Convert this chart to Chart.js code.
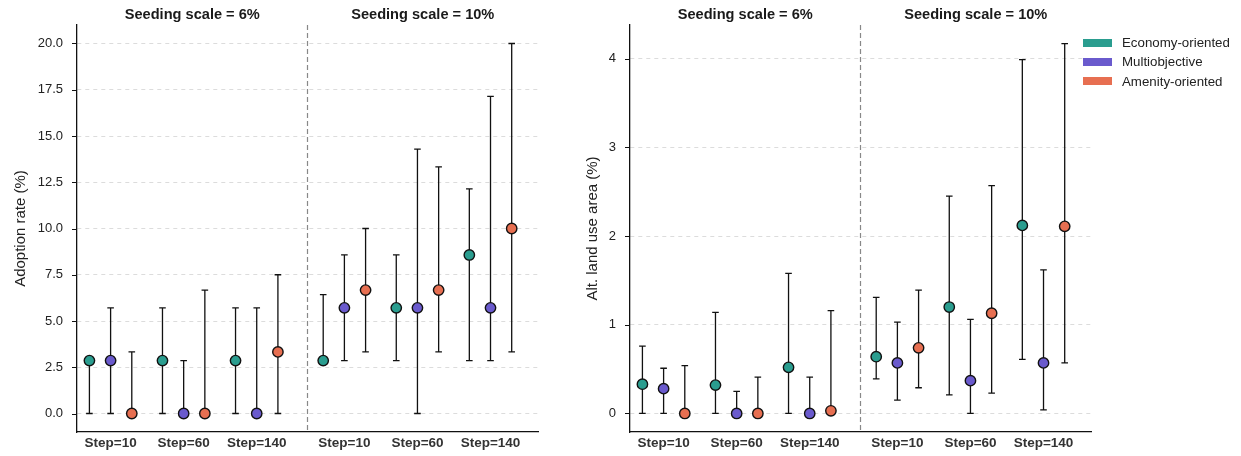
<!DOCTYPE html>
<html>
<head>
<meta charset="utf-8">
<script src="https://cdn.jsdelivr.net/npm/chart.js@4.4.0/dist/chart.umd.min.js"></script>
<style>
body { margin: 0; background: #fff; font-family: "Liberation Sans", Arial, sans-serif; }
#wrap { position: relative; width: 1241px; height: 456px; }
#c1 { position: absolute; left: 0; top: 0; }
#c2 { position: absolute; left: 560px; top: 0; }
#legend { position: absolute; left: 1083px; top: 33px; font-size: 13.3px; color: #222; }
.item { display: flex; align-items: center; height: 19.3px; }
.sw { width: 29px; height: 8px; margin-right: 10px; }
</style>
</head>
<body>
<div id="wrap">
  <canvas id="c1" width="560" height="456"></canvas>
  <canvas id="c2" width="681" height="456"></canvas>
  <div id="legend"></div>
</div>
<script>
// groups: 6% Step=10/60/140, then 10% Step=10/60/140
var stepLabels = ['Step=10', 'Step=60', 'Step=140', 'Step=10', 'Step=60', 'Step=140'];
var panelTitles = ['Seeding scale = 6%', 'Seeding scale = 10%'];
var strategies = ['Economy-oriented', 'Multiobjective', 'Amenity-oriented'];
var colors = ['#2a9d8f', '#6a5acd', '#e76f51'];

// adoption rate (%)
var adoptEcon   = [2.86, 2.86, 2.86, 2.86, 5.71, 8.57];
var adoptEconLo = [0, 0, 0, 2.86, 2.86, 2.86];
var adoptEconHi = [2.86, 5.71, 5.71, 6.43, 8.57, 12.14];
var adoptMulti   = [2.86, 0, 0, 5.71, 5.71, 5.71];
var adoptMultiLo = [0, 0, 0, 2.86, 0, 2.86];
var adoptMultiHi = [5.71, 2.86, 5.71, 8.57, 14.29, 17.14];
var adoptAmen   = [0, 0, 3.33, 6.67, 6.67, 10.0];
var adoptAmenLo = [0, 0, 0, 3.33, 3.33, 3.33];
var adoptAmenHi = [3.33, 6.67, 7.5, 10.0, 13.33, 20.0];

// alt. land use area (%)
var areaEcon   = [0.33, 0.32, 0.52, 0.64, 1.20, 2.12];
var areaEconLo = [0, 0, 0, 0.39, 0.21, 0.61];
var areaEconHi = [0.76, 1.14, 1.58, 1.31, 2.45, 3.99];
var areaMulti   = [0.28, 0, 0, 0.57, 0.37, 0.57];
var areaMultiLo = [0, 0, 0, 0.15, 0, 0.04];
var areaMultiHi = [0.51, 0.25, 0.41, 1.03, 1.06, 1.62];
var areaAmen   = [0, 0, 0.03, 0.74, 1.13, 2.11];
var areaAmenLo = [0, 0, 0, 0.29, 0.23, 0.57];
var areaAmenHi = [0.54, 0.41, 1.16, 1.39, 2.57, 4.17];

var adoptTicks = [0, 2.5, 5, 7.5, 10, 12.5, 15, 17.5, 20];
var areaTicks = [0, 1, 2, 3, 4];

// layout
var groupPos = [0, 1, 2, 3.2, 4.2, 5.2];
var offsets = [-0.29, 0, 0.29];
var FONT = '"Liberation Sans", Arial, sans-serif';

// error bars, y tick marks, separator and panel titles
var extras = {
  id: 'extras',
  beforeDatasetsDraw: function(chart) {
    var ctx = chart.ctx, x = chart.scales.x, y = chart.scales.y, a = chart.chartArea;
    var mid = (a.left + a.right) / 2;
    ctx.save();
    ctx.strokeStyle = '#888';
    ctx.lineWidth = 1.2;
    ctx.setLineDash([5, 3]);
    ctx.beginPath();
    ctx.moveTo(mid, a.top);
    ctx.lineTo(mid, a.bottom);
    ctx.stroke();
    ctx.setLineDash([]);
    ctx.strokeStyle = '#111';
    ctx.lineWidth = 1.2;
    ctx.beginPath();
    y.ticks.forEach(function(t) {
      var py = Math.round(y.getPixelForValue(t.value)) + 0.5;
      ctx.moveTo(a.left - 5, py); ctx.lineTo(a.left, py);
    });
    ctx.stroke();
    ctx.lineWidth = 1.3;
    chart.data.datasets.forEach(function(ds) {
      ds.data.forEach(function(p) {
        var px = x.getPixelForValue(p.x);
        var lo = y.getPixelForValue(p.lo), hi = y.getPixelForValue(p.hi);
        ctx.beginPath();
        ctx.moveTo(px, lo); ctx.lineTo(px, hi);
        ctx.moveTo(px - 3.3, lo); ctx.lineTo(px + 3.3, lo);
        ctx.moveTo(px - 3.3, hi); ctx.lineTo(px + 3.3, hi);
        ctx.stroke();
      });
    });
    ctx.fillStyle = '#1a1a1a';
    ctx.font = 'bold 14.6px ' + FONT;
    ctx.textAlign = 'center';
    ctx.textBaseline = 'middle';
    var w = a.right - a.left;
    ctx.fillText(panelTitles[0], a.left + w * 0.25, 15);
    ctx.fillText(panelTitles[1], a.left + w * 0.75, 15);
    ctx.restore();
  }
};

function makeChart(id, yTitle, series, ticks, yMin, yMax, fmt, yWidth, titlePad, padRight) {
  var datasets = series.map(function(s, k) {
    return {
      label: strategies[k],
      data: s[0].map(function(v, i) {
        return { x: groupPos[i] + offsets[k], y: v, lo: s[1][i], hi: s[2][i] };
      }),
      backgroundColor: colors[k],
      borderColor: '#111',
      pointRadius: 5.2,
      pointBorderWidth: 1.4,
      showLine: false
    };
  });
  return new Chart(document.getElementById(id).getContext('2d'), {
    type: 'scatter',
    data: { datasets: datasets },
    options: {
      responsive: false,
      animation: false,
      layout: { padding: { top: 25, right: padRight, left: 0, bottom: 0 } },
      plugins: { legend: { display: false }, tooltip: { enabled: false } },
      scales: {
        x: {
          type: 'linear', min: -0.46, max: 5.85,
          afterBuildTicks: function(sc) { sc.ticks = groupPos.map(function(v) { return { value: v }; }); },
          afterFit: function(sc) { sc.height = 24; },
          ticks: {
            autoSkip: false, maxRotation: 0, padding: 3,
            color: '#333', font: { family: FONT, size: 13.5, weight: 'bold' },
            callback: function(v, i) { return stepLabels[i]; }
          },
          grid: { display: false, drawTicks: false },
          border: { display: true, color: '#111', width: 1.3 }
        },
        y: {
          min: yMin, max: yMax,
          afterBuildTicks: function(sc) { sc.ticks = ticks.map(function(v) { return { value: v }; }); },
          afterFit: function(sc) { sc.width = yWidth; },
          ticks: {
            padding: 14, color: '#222', font: { family: FONT, size: 13 },
            callback: function(v) { return fmt(v); }
          },
          grid: { color: '#dcdcdc', lineWidth: 1, drawTicks: false },
          border: { display: true, color: '#111', width: 1.3, dash: [4, 4] },
          title: { display: true, text: yTitle, color: '#222', font: { family: FONT, size: 15 }, padding: { top: titlePad, bottom: 0 } }
        }
      }
    },
    plugins: [extras]
  });
}

makeChart('c1', 'Adoption rate (%)',
  [[adoptEcon, adoptEconLo, adoptEconHi], [adoptMulti, adoptMultiLo, adoptMultiHi], [adoptAmen, adoptAmenLo, adoptAmenHi]],
  adoptTicks, -1, 21, function(v) { return v.toFixed(1); }, 77, 12, 22);

makeChart('c2', 'Alt. land use area (%)',
  [[areaEcon, areaEconLo, areaEconHi], [areaMulti, areaMultiLo, areaMultiHi], [areaAmen, areaAmenLo, areaAmenHi]],
  areaTicks, -0.209, 4.38, function(v) { return String(v); }, 70, 24, 150);

var leg = document.getElementById('legend');
strategies.forEach(function(s, k) {
  var d = document.createElement('div');
  d.className = 'item';
  d.innerHTML = '<span class="sw" style="background:' + colors[k] + '"></span><span>' + s + '</span>';
  leg.appendChild(d);
});
</script>
</body>
</html>
